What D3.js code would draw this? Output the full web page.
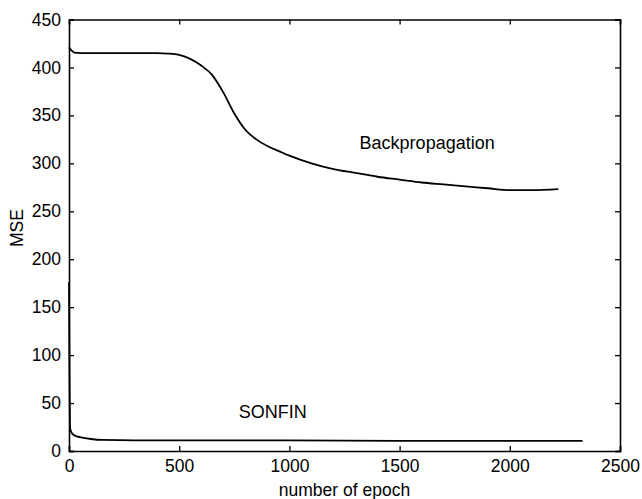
<!DOCTYPE html>
<html>
<head>
<meta charset="utf-8">
<script src="https://d3js.org/d3.v7.min.js"></script>
<style>
  body { margin: 0; background: #fff; }
  svg { display: block; }
  text { font-family: "Liberation Sans", Arial, sans-serif; fill: #000; }
</style>
</head>
<body>
<svg></svg>
<script>
// data
let bpEpoch = [0, 10, 25, 50, 100, 200, 300, 400, 450, 500, 550, 600, 650, 700, 750, 800, 850, 900, 950, 1000, 1100, 1200, 1300, 1400, 1500, 1600, 1700, 1800, 1900, 2000, 2100, 2220];
let bpMse = [421, 418, 415.5, 415, 415, 415, 415, 415, 414.5, 413, 409, 402, 392, 374, 352, 335, 325, 318, 313, 308, 300, 294, 290, 286, 283, 280, 278, 276, 274, 272, 272, 273];

let sfEpoch = [0, 2, 5, 10, 20, 40, 60, 100, 150, 300, 500, 1000, 1500, 2000, 2330];
let sfMse = [176, 90, 24, 20, 17, 15, 14, 12.5, 11.5, 11, 11, 11, 10.5, 10.5, 10.5];

let xTicks = [0, 500, 1000, 1500, 2000, 2500];
let yTicks = [0, 50, 100, 150, 200, 250, 300, 350, 400, 450];

let svgWidth = 642, svgHeight = 499;
let plotLeft = 69, plotRight = 620, plotTop = 19.5, plotBottom = 451;

let svg = d3.select('svg')
    .attr("width", svgWidth)
    .attr("height", svgHeight);

let x = d3.scaleLinear().domain([0, 2500]).range([plotLeft, plotRight]);
let y = d3.scaleLinear().domain([0, 450]).range([plotBottom, plotTop]);

// assen met tikjes naar binnen (matlab stijl)
let tick = 5;
svg.append("g")
    .attr("transform", "translate(0," + plotBottom + ")")
    .call(d3.axisBottom(x).tickValues(xTicks).tickFormat(d3.format("d")).tickSize(-tick).tickPadding(9))
    .call(g => g.selectAll("text").attr("font-size", 17.5));
svg.append("g")
    .attr("transform", "translate(0," + plotTop + ")")
    .call(d3.axisTop(x).tickValues(xTicks).tickSize(-tick).tickFormat(""));
svg.append("g")
    .attr("transform", "translate(" + plotLeft + ",0)")
    .call(d3.axisLeft(y).tickValues(yTicks).tickFormat(d3.format("d")).tickSize(-tick).tickPadding(8))
    .call(g => g.selectAll("text").attr("font-size", 17.5));
svg.append("g")
    .attr("transform", "translate(" + plotRight + ",0)")
    .call(d3.axisRight(y).tickValues(yTicks).tickSize(-tick).tickFormat(""));

svg.selectAll(".domain").attr("stroke", "#000").attr("stroke-width", 1.6);
svg.selectAll(".tick line").attr("stroke", "#000").attr("stroke-width", 1.3);
svg.selectAll(".tick text").attr("font-family", "Liberation Sans, Arial, sans-serif");

// de lijnen (vloeiend)
let line = d3.line()
    .curve(d3.curveMonotoneX)
    .x(d => x(d[0]))
    .y(d => y(d[1]));

svg.append("path")
    .datum(d3.zip(bpEpoch, bpMse))
    .attr("d", line)
    .attr("fill", "none")
    .attr("stroke", "#000")
    .attr("stroke-width", 1.8);

svg.append("path")
    .datum(d3.zip(sfEpoch, sfMse))
    .attr("d", line)
    .attr("fill", "none")
    .attr("stroke", "#000")
    .attr("stroke-width", 1.8);

// teksten
svg.append("text")
    .attr("x", x(1625))
    .attr("y", y(315))
    .attr("text-anchor", "middle")
    .attr("font-size", 18)
    .text("Backpropagation");

svg.append("text")
    .attr("x", x(925))
    .attr("y", y(34))
    .attr("text-anchor", "middle")
    .attr("font-size", 18)
    .text("SONFIN");

svg.append("text")
    .attr("x", (plotLeft + plotRight) / 2)
    .attr("y", 496)
    .attr("text-anchor", "middle")
    .attr("font-size", 17.5)
    .text("number of epoch");

svg.append("text")
    .attr("transform", "translate(23," + 228 + ") rotate(-90)")
    .attr("text-anchor", "middle")
    .attr("font-size", 17.5)
    .text("MSE");
</script>
</body>
</html>
